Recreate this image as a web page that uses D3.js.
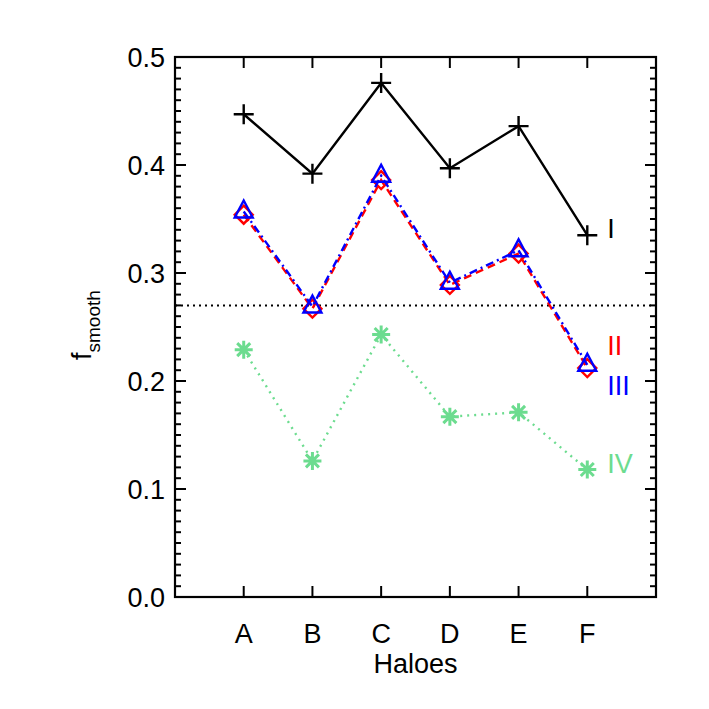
<!DOCTYPE html>
<html>
<head>
<meta charset="utf-8">
<script src="https://cdn.jsdelivr.net/npm/d3@7"></script>
<style>
  body { margin: 0; background: #fff; }
  text { font-family: "Liberation Sans", "DejaVu Sans", sans-serif; }
</style>
</head>
<body>
<svg id="chart"></svg>
<script>
// data
const haloes = ["A", "B", "C", "D", "E", "F"];
const seriesI = [0.447, 0.392, 0.476, 0.397, 0.436, 0.335];
const seriesII = [0.354, 0.267, 0.386, 0.289, 0.318, 0.212];
const seriesIII = [0.357, 0.269, 0.390, 0.291, 0.321, 0.215];
const seriesIV = [0.229, 0.126, 0.243, 0.167, 0.171, 0.118];
const refLevel = 0.270;
const yTicks = [0.0, 0.1, 0.2, 0.3, 0.4, 0.5];

const width = 709, height = 709;
const margin = { top: 57, right: 53, bottom: 112, left: 175 };

const svg = d3.select("#chart")
    .attr("width", width)
    .attr("height", height);

const x = d3.scaleLinear().domain([0, haloes.length + 1]).range([margin.left, width - margin.right]);
const y = d3.scaleLinear().domain([0, 0.5]).range([height - margin.bottom, margin.top]);

const xPos = i => x(i + 1);

// frame and ticks
const plot = svg.append("g");
const x0 = x.range()[0], x1 = x.range()[1];
const y0 = y.range()[0], y1 = y.range()[1];

plot.append("rect")
    .attr("x", x0).attr("y", y1)
    .attr("width", x1 - x0).attr("height", y0 - y1)
    .attr("fill", "none").attr("stroke", "black").attr("stroke-width", 2.2);

// minor y ticks every 0.01
const minor = d3.range(0, 51).map(d => d / 100);
minor.forEach(v => {
    const isMajor = Math.round(v * 100) % 10 === 0;
    const len = isMajor ? 11 : 6;
    plot.append("line").attr("x1", x0).attr("x2", x0 + len)
        .attr("y1", y(v)).attr("y2", y(v)).attr("stroke", "black").attr("stroke-width", 2);
    plot.append("line").attr("x1", x1).attr("x2", x1 - len)
        .attr("y1", y(v)).attr("y2", y(v)).attr("stroke", "black").attr("stroke-width", 2);
});

svg.selectAll(".ylab")
    .data(yTicks)
    .enter()
    .append("text")
    .attr("x", x0 - 10)
    .attr("y", d => y(d) + 10)
    .attr("text-anchor", "end")
    .attr("font-size", 27)
    .text(d => d.toFixed(1));

haloes.forEach((h, i) => {
    plot.append("line").attr("x1", xPos(i)).attr("x2", xPos(i))
        .attr("y1", y0).attr("y2", y0 - 11).attr("stroke", "black").attr("stroke-width", 2);
    plot.append("line").attr("x1", xPos(i)).attr("x2", xPos(i))
        .attr("y1", y1).attr("y2", y1 + 11).attr("stroke", "black").attr("stroke-width", 2);
});

svg.selectAll(".xlab")
    .data(haloes)
    .enter()
    .append("text")
    .attr("x", (d, i) => xPos(i))
    .attr("y", y0 + 46)
    .attr("text-anchor", "middle")
    .attr("font-size", 27)
    .text(d => d);

svg.append("text")
    .attr("x", (x0 + x1) / 2)
    .attr("y", y0 + 76)
    .attr("text-anchor", "middle")
    .attr("font-size", 27)
    .text("Haloes");

const ylab = svg.append("text")
    .attr("transform", `translate(91, ${(y0 + y1) / 2 + 33}) rotate(-90)`)
    .attr("font-size", 27);
ylab.append("tspan").text("f");
ylab.append("tspan").attr("dy", 9).attr("font-size", 19).text("smooth");

// reference dotted line
svg.append("line")
    .attr("x1", x0).attr("x2", x1)
    .attr("y1", y(refLevel)).attr("y2", y(refLevel))
    .attr("stroke", "black").attr("stroke-width", 2)
    .attr("stroke-dasharray", "2,4");

const line = d3.line().x((d, i) => xPos(i)).y(d => y(d));

const green = "#6cdc8f";

const series = [
    { name: "I", values: seriesI, color: "black", dash: null, marker: "plus", labelY: 0.342 },
    { name: "II", values: seriesII, color: "#ff0000", dash: "8,5", marker: "diamond", labelY: 0.233 },
    { name: "III", values: seriesIII, color: "#0000ff", dash: "8,4,2,4", marker: "triangle", labelY: 0.196 },
    { name: "IV", values: seriesIV, color: green, dash: "2,5", marker: "asterisk", labelY: 0.124 }
];

series.forEach(s => {
    svg.append("path")
        .datum(s.values)
        .attr("d", line)
        .attr("fill", "none")
        .attr("stroke", s.color)
        .attr("stroke-width", 2.4)
        .attr("stroke-dasharray", s.dash);

    const g = svg.append("g");
    s.values.forEach((v, i) => {
        const cx = xPos(i), cy = y(v);
        let d;
        if (s.marker === "plus") {
            d = `M${cx - 10},${cy}H${cx + 10}M${cx},${cy - 10}V${cy + 10}`;
        } else if (s.marker === "diamond") {
            d = `M${cx},${cy - 9}L${cx + 9},${cy}L${cx},${cy + 9}L${cx - 9},${cy}Z`;
        } else if (s.marker === "triangle") {
            d = `M${cx},${cy - 11}L${cx + 9},${cy + 6}L${cx - 9},${cy + 6}Z`;
        } else {
            const r = 9, q = 6.5;
            d = `M${cx - r},${cy}H${cx + r}M${cx},${cy - r}V${cy + r}` +
                `M${cx - q},${cy - q}L${cx + q},${cy + q}M${cx - q},${cy + q}L${cx + q},${cy - q}`;
        }
        g.append("path")
            .attr("d", d)
            .attr("fill", "none")
            .attr("stroke", s.color)
            .attr("stroke-width", s.marker === "asterisk" ? 3 : 2.4);
    });

    svg.append("text")
        .attr("x", xPos(5) + 20)
        .attr("y", y(s.labelY) + 10)
        .attr("font-size", 27)
        .attr("fill", s.color)
        .text(s.name);
});
</script>
</body>
</html>
